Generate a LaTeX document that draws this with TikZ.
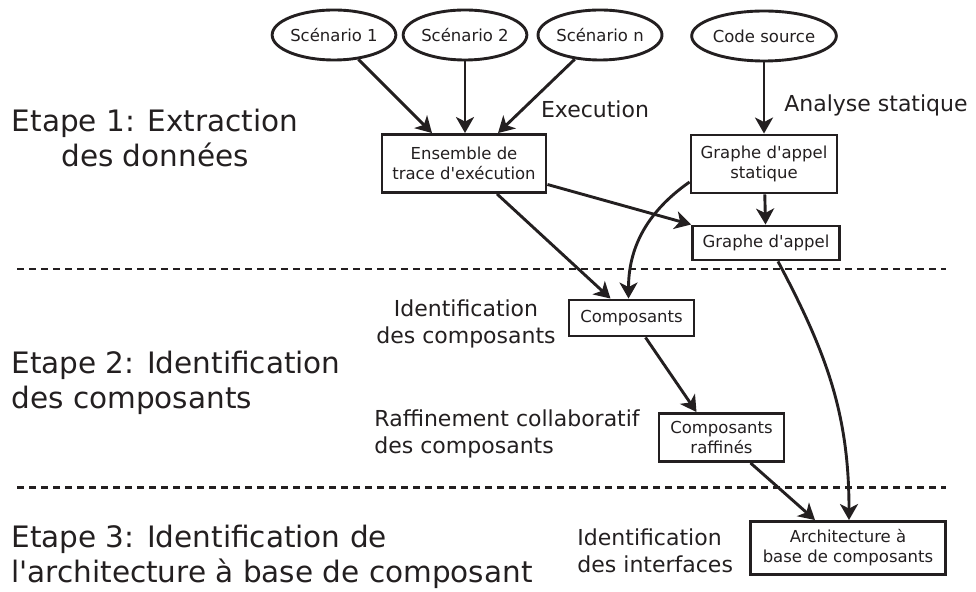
\documentclass[tikz,border=0pt]{standalone}
\usepackage{fontspec}
\setmainfont{DejaVu Sans}
\usetikzlibrary{arrows.meta,shapes.geometric}
\definecolor{ink}{RGB}{35,31,32}

\begin{document}
\begin{tikzpicture}[x=1pt, y=1pt, line width=2.9pt, color=ink,
	scen/.style={ellipse, draw, minimum width=122pt, minimum height=50pt, inner sep=0pt, font=\fontsize{16.5}{20}\selectfont},
	boite/.style={rectangle, draw, inner sep=0pt, align=center, font=\fontsize{16.5}{20}\selectfont},
	etape/.style={inner sep=0pt, font=\fontsize{29.5}{35}\selectfont},
	lbl/.style={inner sep=0pt, font=\fontsize{22}{27}\selectfont},
	fleche/.style={-{Stealth[length=16pt, width=18pt, inset=4.5pt]}},
	sep/.style={dash pattern=on 7pt off 5pt}]
	\useasboundingbox (0,0) rectangle (976,591);
	\node[scen] (sc1) at (334,556) {Scénario 1};
	\node[scen] (sc2) at (465,556) {Scénario 2};
	\node[scen, minimum width=124pt] (scn) at (600,556) {Scénario n};
	\node[scen, minimum width=125pt] (code) at (764,555) {Code source};
	\node[boite, minimum width=164pt, minimum height=58pt] (trace) at (464,427.5) {Ensemble de\\trace d\textquotesingle exécution};
	\node[boite, minimum width=146pt, minimum height=58pt] (statique) at (764,427) {Graphe d\textquotesingle appel\\statique};
	\node[boite, minimum width=147pt, minimum height=34pt] (appel) at (766,348) {Graphe d\textquotesingle appel};
	\node[boite, minimum width=125pt, minimum height=36pt] (comp) at (631.5,273) {Composants};
	\node[boite, minimum width=125pt, minimum height=48pt] (raff) at (721.5,153.5) {Composants\\raffinés};
	\node[boite, minimum width=195pt, minimum height=53pt] (archi) at (848,43) {Architecture à\\base de composants};
	% etapes
	\node[etape, align=center] (etape1) at (155,452.8) {Etape 1: Extraction\\des données};
	\node[etape, align=left, anchor=west] (etape2) at (10,207.9) {Etape 2: Identification\\des composants};
	\node[etape, align=left, anchor=west] (etape3) at (10,34.5) {Etape 3: Identification de\\l\textquotesingle architecture à base de composant};
	\draw[sep] (17,322) -- (946,322);
	\draw[sep] (17,103.7) -- (946,103.7);
	% labels des fleches
	\node[lbl, anchor=base] (exec) at (595,473) {Execution};
	\node[lbl, anchor=base] (analyse) at (876,479.3) {Analyse statique};
	\node[lbl, align=center] (identcomp) at (466,267) {Identification\\des composants};
	\node[lbl, align=left, anchor=west] (raffcomp) at (373,156.6) {Raffinement collaboratif\\des composants};
	\node[lbl, align=left, anchor=west] (identint) at (576,39.8) {Identification\\des interfaces};
	% fleches
	\draw[fleche] (sc1) -- ([xshift=-32pt]trace.north);
	\draw[fleche] (sc2) -- (sc2 |- trace.north);
	\draw[fleche] (scn) -- ([xshift=34pt]trace.north);
	\draw[fleche] (code) -- (statique);
	\draw[fleche] (statique) -- (appel);
	\draw[fleche] ([yshift=-21pt]trace.east) -- (appel.north west);
	\draw[fleche] ([xshift=33pt]trace.south) -- ([xshift=-21pt]comp.north);
	\draw[fleche] ([yshift=-18pt]statique.west) to[out=215, in=90] ([xshift=-3pt]comp.north);
	\draw[fleche] ([xshift=14pt]comp.south) -- ([xshift=-25pt]raff.north);
	\draw[fleche] ([xshift=29pt]raff.south) -- ([xshift=-33pt]archi.north);
	\draw[fleche] ([xshift=12pt]appel.south) to[out=-62, in=90] ([xshift=1pt]archi.north);
\end{tikzpicture}
\end{document}
